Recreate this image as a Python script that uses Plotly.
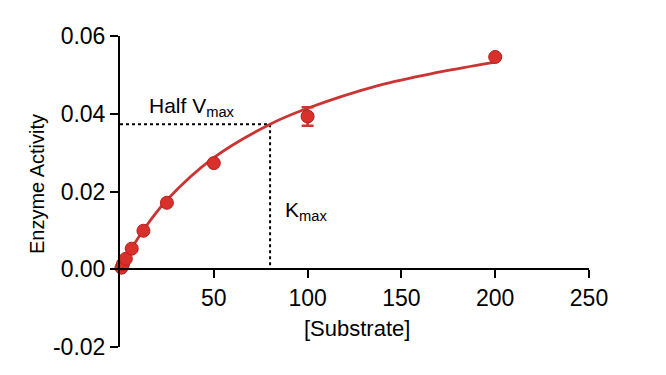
import plotly.graph_objects as go

# Measured data (substrate, activity)
substrate = [0.78, 1.56, 3.125, 6.25, 12.5, 25, 50, 100, 200]
activity = [0.0004, 0.0013, 0.0027, 0.0053, 0.0099, 0.0171, 0.0273, 0.0393, 0.0546]
activity_err = [0, 0, 0, 0, 0, 0, 0, 0.0024, 0]

# Fitted curve values
curve_x = [0, 5, 12.5, 25, 50, 80, 100, 138, 170, 200]
curve_y = [0, 0.0044, 0.0101, 0.0178, 0.0287, 0.0373, 0.0414, 0.0473, 0.0507, 0.0533]

# Half Vmax / Km markers
km = 80
half_vmax = 0.0373

x_ticks = [50, 100, 150, 200, 250]
y_ticks = [-0.02, 0.00, 0.02, 0.04, 0.06]
y_tick_labels = ["-0.02", "0.00", "0.02", "0.04", "0.06"]

RED = "#d8302a"
FONT = "Liberation Sans, Arial, sans-serif"

fig = go.Figure()

fig.add_trace(go.Scatter(
    x=[0, km, km], y=[half_vmax, half_vmax, 0], mode="lines",
    line=dict(color="black", width=2, dash="dot"), hoverinfo="skip",
    cliponaxis=False, showlegend=False))

fig.add_trace(go.Scatter(
    x=curve_x, y=curve_y, mode="lines", line_shape="spline",
    line=dict(color="#cc3333", width=2.8), cliponaxis=False, showlegend=False))

fig.add_trace(go.Scatter(
    x=substrate, y=activity, mode="markers",
    marker=dict(size=13, color=RED, line=dict(color="#b52020", width=1)),
    error_y=dict(type="data", array=activity_err, visible=True,
                 color=RED, thickness=2.5, width=6),
    cliponaxis=False, showlegend=False))

fig.add_annotation(x=14.5, y=0.0417, xref="x", yref="y", xanchor="left",
                   yanchor="middle",
                   text="Half V<sub>max</sub>", showarrow=False,
                   font=dict(size=21, color="black", family=FONT))
fig.add_annotation(x=87, y=0.0150, xref="x", yref="y", xanchor="left",
                   yanchor="middle",
                   text="K<sub>max</sub>", showarrow=False,
                   font=dict(size=21, color="black", family=FONT))

# Axis titles
fig.add_annotation(x=-0.177, y=0.524, xref="paper", yref="paper",
                   xanchor="center", yanchor="middle",
                   text="Enzyme Activity", textangle=-90, showarrow=False,
                   font=dict(size=20, color="black", family=FONT))
fig.add_annotation(x=0.505, y=0.061, xref="paper", yref="paper",
                   xanchor="center", yanchor="middle",
                   text="[Substrate]", showarrow=False,
                   font=dict(size=22, color="black", family=FONT))

fig.update_layout(
    width=658, height=367,
    margin=dict(l=112, r=77, t=28, b=28),
    paper_bgcolor="white", plot_bgcolor="white",
    font=dict(family=FONT, color="black"),
    xaxis=dict(range=[0, 250], tickvals=x_ticks, ticks="outside", ticklen=8,
               tickwidth=2, tickcolor="black", showline=True, linecolor="black",
               linewidth=2, showgrid=False, zeroline=False,
               anchor="free", position=0.25, automargin=False,
               tickfont=dict(size=23, family=FONT)),
    yaxis=dict(range=[-0.02, 0.06], tickvals=y_ticks, ticktext=y_tick_labels,
               ticks="outside", ticklen=8, tickwidth=2, tickcolor="black",
               showline=True, linecolor="black", linewidth=2, showgrid=False,
               zeroline=False, automargin=False,
               tickfont=dict(size=23, family=FONT)),
)

fig.write_html("out.html")
